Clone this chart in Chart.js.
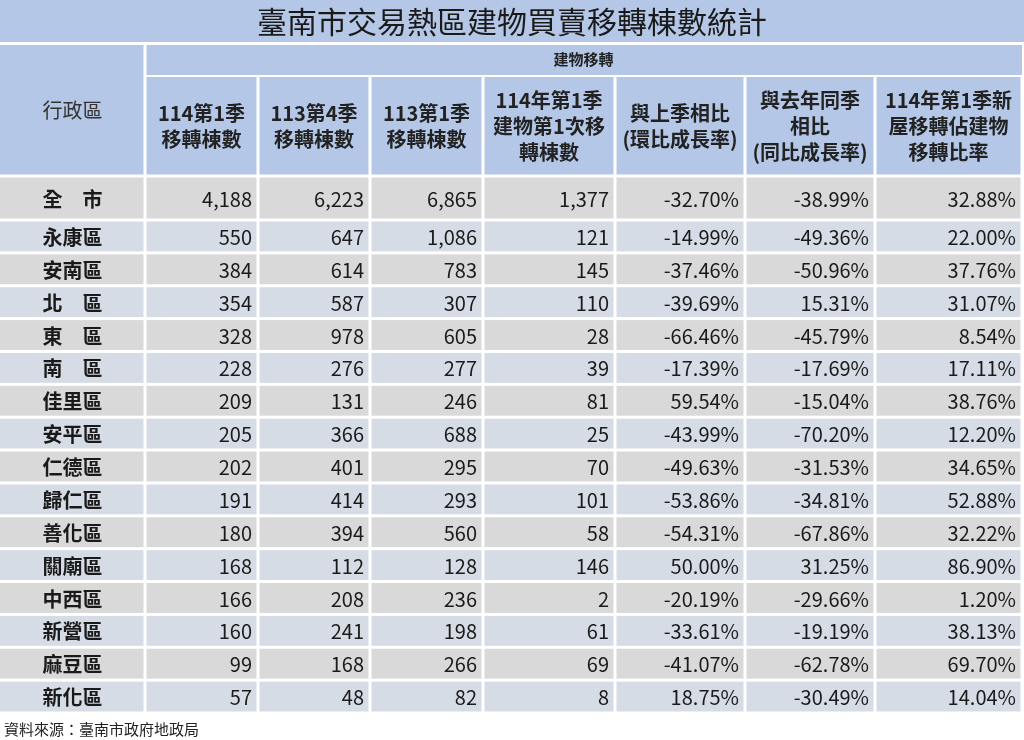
<!DOCTYPE html>
<html lang="zh-Hant">
<head>
<meta charset="UTF-8">
<title>臺南市交易熱區建物買賣移轉棟數統計</title>
<script src="https://cdn.jsdelivr.net/npm/chart.js"></script>
<style>
    body { margin: 0; background: #fff; }
    #wrap { width: 1024px; height: 740px; }
</style>
</head>
<body>
<div id="wrap"><canvas id="tbl"></canvas></div>
<script>
// data
const districts = ['全　市', '永康區', '安南區', '北　區', '東　區', '南　區', '佳里區', '安平區', '仁德區', '歸仁區', '善化區', '關廟區', '中西區', '新營區', '麻豆區', '新化區'];
const q114_1 = ['4,188', '550', '384', '354', '328', '228', '209', '205', '202', '191', '180', '168', '166', '160', '99', '57'];
const q113_4 = ['6,223', '647', '614', '587', '978', '276', '131', '366', '401', '414', '394', '112', '208', '241', '168', '48'];
const q113_1 = ['6,865', '1,086', '783', '307', '605', '277', '246', '688', '295', '293', '560', '128', '236', '198', '266', '82'];
const firstTransfer = ['1,377', '121', '145', '110', '28', '39', '81', '25', '70', '101', '58', '146', '2', '61', '69', '8'];
const qoq = ['-32.70%', '-14.99%', '-37.46%', '-39.69%', '-66.46%', '-17.39%', '59.54%', '-43.99%', '-49.63%', '-53.86%', '-54.31%', '50.00%', '-20.19%', '-33.61%', '-41.07%', '18.75%'];
const yoy = ['-38.99%', '-49.36%', '-50.96%', '15.31%', '-45.79%', '-17.69%', '-15.04%', '-70.20%', '-31.53%', '-34.81%', '-67.86%', '31.25%', '-29.66%', '-19.19%', '-62.78%', '-30.49%'];
const newShare = ['32.88%', '22.00%', '37.76%', '31.07%', '8.54%', '17.11%', '38.76%', '12.20%', '34.65%', '52.88%', '32.22%', '86.90%', '1.20%', '38.13%', '69.70%', '14.04%'];
const headers = [
    ['114第1季', '移轉棟數'],
    ['113第4季', '移轉棟數'],
    ['113第1季', '移轉棟數'],
    ['114年第1季', '建物第1次移', '轉棟數'],
    ['與上季相比', '(環比成長率)'],
    ['與去年同季', '相比', '(同比成長率)'],
    ['114年第1季新', '屋移轉佔建物', '移轉比率']
];
const title = '臺南市交易熱區建物買賣移轉棟數統計';
const groupTitle = '建物移轉';
const firstColTitle = '行政區';
const source = '資料來源：臺南市政府地政局';

// layout (pixel units for the hidden linear scales)
const colEdges = [0, 145, 258, 370, 483, 615, 745, 875, 1022];
const tableTop = 176, tableBottom = 713;
const firstRowH = 44, rowH = (tableBottom - tableTop - firstRowH) / 15;
const rowTop = i => i === 0 ? 0 : firstRowH + (i - 1) * rowH;
const rowBottom = i => i === 0 ? firstRowH : firstRowH + i * rowH;

const columns = [q114_1, q113_4, q113_1, firstTransfer, qoq, yoy, newShare];
const CJK = '"Noto Sans CJK TC", "Noto Sans", sans-serif';

const tablePlugin = {
    id: 'tablePlugin',
    afterDraw(chart) {
        const ctx = chart.ctx;
        const xs = chart.scales.x, ys = chart.scales.y;
        const X = v => xs.getPixelForValue(v);
        const Y = v => ys.getPixelForValue(v);
        const gap = 1.5;
        ctx.save();

        // title band
        ctx.fillStyle = '#b4c7e7';
        ctx.fillRect(0, 0, 1024, 42);
        ctx.fillStyle = '#1a1a1a';
        ctx.font = '30px ' + CJK;
        ctx.textAlign = 'center';
        ctx.textBaseline = 'middle';
        ctx.fillText(title, 512, 22);

        // header
        const hTop = 45, hBottom = tableTop;
        ctx.fillStyle = '#b4c7e7';
        ctx.fillRect(X(colEdges[0]), hTop, X(colEdges[1]) - X(colEdges[0]) - gap, hBottom - hTop - gap);
        ctx.fillRect(X(colEdges[1]) + gap, hTop, X(colEdges[8]) - X(colEdges[1]) - gap, 30);
        for (let c = 1; c < 8; c++) {
            ctx.fillRect(X(colEdges[c]) + gap, 77, X(colEdges[c + 1]) - X(colEdges[c]) - 2 * gap, hBottom - 77 - gap);
        }
        ctx.fillStyle = '#333';
        ctx.font = '20px ' + CJK;
        ctx.fillText(firstColTitle, X(colEdges[1]) / 2, 110);
        ctx.fillStyle = '#222';
        ctx.font = 'bold 15px ' + CJK;
        ctx.fillText(groupTitle, (X(colEdges[1]) + X(colEdges[8])) / 2, 59);
        ctx.font = 'bold 20px ' + CJK;
        headers.forEach((lines, c) => {
            const cx = (X(colEdges[c + 1]) + X(colEdges[c + 2])) / 2;
            const lh = 26;
            const y0 = 126 - (lines.length - 1) * lh / 2;
            lines.forEach((t, k) => ctx.fillText(t, cx, y0 + k * lh));
        });

        // body rows
        districts.forEach((name, i) => {
            const top = Y(rowTop(i)), bottom = Y(rowBottom(i));
            const mid = (top + bottom) / 2 + 1;
            ctx.fillStyle = i % 2 === 0 ? '#d9d9d9' : '#d6dce5';
            for (let c = 0; c < 8; c++) {
                const l = X(colEdges[c]) + (c === 0 ? 0 : gap);
                const r = X(colEdges[c + 1]) - gap;
                ctx.fillRect(l, top + gap, r - l, bottom - top - 2 * gap);
            }
            ctx.fillStyle = '#1a1a1a';
            ctx.textAlign = 'center';
            ctx.font = 'bold 20px ' + CJK;
            ctx.fillText(name, X(colEdges[1]) / 2, mid);
            ctx.textAlign = 'right';
            ctx.font = '20px ' + CJK;
            columns.forEach((col, c) => ctx.fillText(col[i], X(colEdges[c + 2]) - 6, mid));
        });

        ctx.textAlign = 'left';
        ctx.fillStyle = '#222';
        ctx.font = '15px ' + CJK;
        ctx.fillText(source, 4, 729);
        ctx.restore();
    }
};

new Chart(document.getElementById('tbl'), {
    type: 'scatter',
    data: { datasets: [{ data: [], pointRadius: 0 }] },
    options: {
        responsive: true,
        maintainAspectRatio: false,
        animation: false,
        layout: { padding: { top: tableTop, bottom: 740 - tableBottom, left: 0, right: 1024 - colEdges[8] } },
        plugins: { legend: { display: false }, tooltip: { enabled: false } },
        scales: {
            x: { type: 'linear', min: 0, max: colEdges[8], display: false },
            y: { type: 'linear', min: 0, max: tableBottom - tableTop, reverse: true, display: false }
        }
    },
    plugins: [tablePlugin]
});
</script>
</body>
</html>
